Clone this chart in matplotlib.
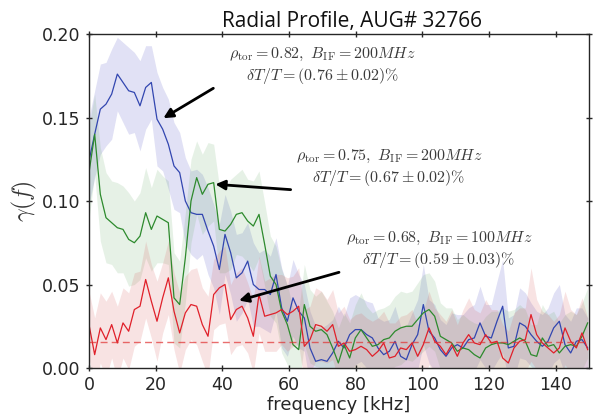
import numpy as np
import matplotlib
matplotlib.use("Agg")
import matplotlib.pyplot as plt

plt.rcParams['mathtext.fontset'] = 'cm'
plt.rcParams['font.family'] = ['DejaVu Sans']

freq_step_khz = 1.7
n_points = 89

gamma_blue = [0.124, 0.140, 0.155, 0.158, 0.164, 0.176, 0.171, 0.166, 0.165, 0.157,
              0.168, 0.171, 0.149, 0.143, 0.134, 0.121, 0.117, 0.100, 0.093, 0.092,
              0.092, 0.082, 0.073, 0.059, 0.080, 0.069, 0.054, 0.057, 0.064, 0.050,
              0.047, 0.047, 0.044, 0.056, 0.036, 0.028, 0.042, 0.034, 0.030, 0.012,
              0.004, 0.005, 0.004, 0.009, 0.016, 0.012, 0.020, 0.023, 0.023, 0.020,
              0.018, 0.012, 0.008, 0.010, 0.016, 0.007, 0.005, 0.014, 0.020, 0.038,
              0.022, 0.018, 0.011, 0.007, 0.012, 0.014, 0.012, 0.017, 0.018, 0.027,
              0.019, 0.018, 0.028, 0.037, 0.012, 0.013, 0.027, 0.025, 0.020, 0.016,
              0.013, 0.016, 0.024, 0.028, 0.014, 0.009, 0.016, 0.017, 0.012]

gamma_green = [0.117, 0.140, 0.104, 0.090, 0.087, 0.084, 0.083, 0.077, 0.075, 0.079,
               0.093, 0.083, 0.091, 0.089, 0.087, 0.042, 0.038, 0.066, 0.100, 0.114,
               0.104, 0.110, 0.111, 0.083, 0.082, 0.086, 0.092, 0.093, 0.088, 0.085,
               0.092, 0.074, 0.055, 0.050, 0.034, 0.026, 0.014, 0.011, 0.038, 0.025,
               0.022, 0.023, 0.020, 0.012, 0.003, 0.014, 0.006, 0.018, 0.023, 0.018,
               0.013, 0.014, 0.017, 0.018, 0.022, 0.024, 0.025, 0.025, 0.029, 0.033,
               0.035, 0.031, 0.019, 0.017, 0.015, 0.010, 0.012, 0.011, 0.008, 0.006,
               0.012, 0.014, 0.015, 0.015, 0.014, 0.016, 0.018, 0.016, 0.008, 0.007,
               0.018, 0.013, 0.014, 0.009, 0.013, 0.014, 0.013, 0.019, 0.027]

gamma_red = [0.026, 0.008, 0.024, 0.017, 0.026, 0.015, 0.027, 0.022, 0.035, 0.037,
             0.053, 0.040, 0.028, 0.042, 0.054, 0.034, 0.021, 0.033, 0.038, 0.037,
             0.026, 0.019, 0.044, 0.048, 0.050, 0.029, 0.035, 0.037, 0.030, 0.019,
             0.044, 0.031, 0.032, 0.033, 0.035, 0.032, 0.034, 0.037, 0.013, 0.017,
             0.026, 0.025, 0.022, 0.026, 0.013, 0.015, 0.010, 0.011, 0.013, 0.011,
             0.007, 0.010, 0.015, 0.006, 0.007, 0.012, 0.011, 0.015, 0.007, 0.014,
             0.024, 0.016, 0.013, 0.008, 0.014, 0.007, 0.015, 0.020, 0.015, 0.014,
             0.020, 0.015, 0.016, 0.006, 0.003, 0.012, 0.016, 0.017, 0.032, 0.020,
             0.015, 0.012, 0.009, 0.012, 0.024, 0.016, 0.012, 0.021, 0.011]

err_blue = [0.026, 0.026, 0.027, 0.025, 0.027, 0.022, 0.024, 0.026, 0.024, 0.027,
            0.025, 0.022, 0.028, 0.025, 0.027, 0.026, 0.024, 0.026, 0.025, 0.027,
            0.024, 0.026, 0.025, 0.027, 0.024, 0.025, 0.026, 0.024, 0.023, 0.025,
            0.022, 0.024, 0.023, 0.022, 0.024, 0.021, 0.023, 0.022, 0.020, 0.022,
            0.021, 0.019, 0.022, 0.020, 0.021, 0.019, 0.022, 0.021, 0.019, 0.020,
            0.021, 0.018, 0.020, 0.019, 0.021, 0.018, 0.020, 0.019, 0.021, 0.024,
            0.019, 0.020, 0.018, 0.019, 0.021, 0.018, 0.020, 0.019, 0.020, 0.022,
            0.019, 0.020, 0.024, 0.028, 0.018, 0.019, 0.021, 0.020, 0.019, 0.018,
            0.019, 0.020, 0.021, 0.022, 0.018, 0.019, 0.020, 0.019, 0.018]

err_green = [0.028, 0.024, 0.028, 0.027, 0.025, 0.027, 0.026, 0.028, 0.025, 0.026,
             0.027, 0.025, 0.028, 0.026, 0.025, 0.027, 0.026, 0.027, 0.025, 0.022,
             0.024, 0.025, 0.023, 0.026, 0.025, 0.027, 0.024, 0.026, 0.025, 0.027,
             0.026, 0.025, 0.024, 0.023, 0.025, 0.024, 0.022, 0.023, 0.024, 0.022,
             0.021, 0.023, 0.020, 0.022, 0.021, 0.019, 0.021, 0.020, 0.022, 0.019,
             0.020, 0.021, 0.019, 0.020, 0.021, 0.022, 0.020, 0.021, 0.022, 0.023,
             0.022, 0.021, 0.020, 0.019, 0.021, 0.019, 0.020, 0.018, 0.019, 0.020,
             0.019, 0.020, 0.019, 0.021, 0.020, 0.019, 0.020, 0.019, 0.018, 0.019,
             0.020, 0.019, 0.020, 0.018, 0.019, 0.020, 0.019, 0.020, 0.021]

err_red = [0.020, 0.022, 0.021, 0.023, 0.020, 0.022, 0.021, 0.023, 0.022, 0.021,
           0.023, 0.022, 0.024, 0.021, 0.022, 0.023, 0.024, 0.022, 0.021, 0.023,
           0.022, 0.024, 0.021, 0.022, 0.023, 0.021, 0.022, 0.023, 0.021, 0.022,
           0.023, 0.021, 0.022, 0.023, 0.021, 0.022, 0.021, 0.023, 0.022, 0.020,
           0.022, 0.021, 0.019, 0.021, 0.020, 0.022, 0.019, 0.021, 0.020, 0.019,
           0.021, 0.020, 0.019, 0.021, 0.020, 0.019, 0.021, 0.020, 0.019, 0.020,
           0.022, 0.020, 0.019, 0.020, 0.021, 0.019, 0.020, 0.022, 0.020, 0.019,
           0.021, 0.020, 0.019, 0.020, 0.019, 0.021, 0.020, 0.019, 0.028, 0.021,
           0.019, 0.020, 0.019, 0.020, 0.022, 0.019, 0.020, 0.021, 0.019]

noise_level = 0.0154

x_ticks = [0, 20, 40, 60, 80, 100, 120, 140]
y_ticks = [0.00, 0.05, 0.10, 0.15, 0.20]

label_blue = '$\\rho_{\\rm tor}=0.82,\\ B_{\\rm IF}=200MHz$\n$\\delta T/T=(0.76\\pm0.02)\\%$'
label_green = '$\\rho_{\\rm tor}=0.75,\\ B_{\\rm IF}=200MHz$\n$\\delta T/T=(0.67\\pm0.02)\\%$'
label_red = '$\\rho_{\\rm tor}=0.68,\\ B_{\\rm IF}=100MHz$\n$\\delta T/T=(0.59\\pm0.03)\\%$'

freq = np.arange(n_points) * freq_step_khz

fig = plt.figure(figsize=(6.03, 4.15), dpi=100)
ax = fig.add_axes([89 / 603, 1 - 368 / 415, 500 / 603, 334 / 415])

series = [
    (gamma_blue, err_blue, '#3246b0', '#5a5ac8', 0.18),
    (gamma_green, err_green, '#2d8a2d', '#5aa55a', 0.15),
    (gamma_red, err_red, '#e0202a', '#d85a5a', 0.17),
]
for vals, err, lc, fc, a in series:
    v = np.array(vals)
    e = np.array(err)
    ax.fill_between(freq, v - e, v + e, color=fc, alpha=a, lw=0)
for vals, err, lc, fc, a in series:
    ax.plot(freq, vals, color=lc, lw=0.9)

ax.axhline(noise_level, color='#e03030', ls='--', lw=1.0, alpha=0.7, dashes=(5, 3))

ax.set_xlim(0, 150)
ax.set_ylim(0, 0.2)
ax.set_xticks(x_ticks)
ax.set_yticks(y_ticks)
ax.set_yticklabels(['%.2f' % t for t in y_ticks])
ax.tick_params(axis='both', labelsize=12.5, colors='#262626', length=5, width=1,
               direction='inout', top=True, right=True)
ax.tick_params(axis='x', top=True, which='both')
for s in ax.spines.values():
    s.set_color('#262626')
    s.set_linewidth(1.0)

ax.set_xlabel('frequency [kHz]', fontsize=13, color='#262626', labelpad=1)
ax.set_ylabel('$\\gamma(f)$', fontsize=17, color='#333333', labelpad=2)

fig.text(352 / 603, 1 - 27 / 415, 'Radial Profile, AUG# 32766', ha='center',
         va='baseline', fontsize=15, family='Open Sans', color='#111111')

txt_color = '#3a3a3a'
ax.text(70, 0.181, label_blue, ha='center', va='center', multialignment='center',
        fontsize=11.5, color=txt_color)
ax.text(90, 0.120, label_green, ha='center', va='center', multialignment='center',
        fontsize=11.5, color=txt_color)
ax.text(105, 0.0705, label_red, ha='center', va='center', multialignment='center',
        fontsize=11.5, color=txt_color)

arrow_kw = dict(arrowstyle='-|>', color='black', lw=2.0, mutation_scale=14,
                shrinkA=0, shrinkB=0)
ax.annotate('', xy=(22.3, 0.1496), xytext=(37.3, 0.1675), arrowprops=arrow_kw)
ax.annotate('', xy=(37.9, 0.1100), xytext=(60.5, 0.1068), arrowprops=arrow_kw)
ax.annotate('', xy=(45.0, 0.0404), xytext=(75.0, 0.0573), arrowprops=arrow_kw)

fig.savefig('out.png', dpi=100)
